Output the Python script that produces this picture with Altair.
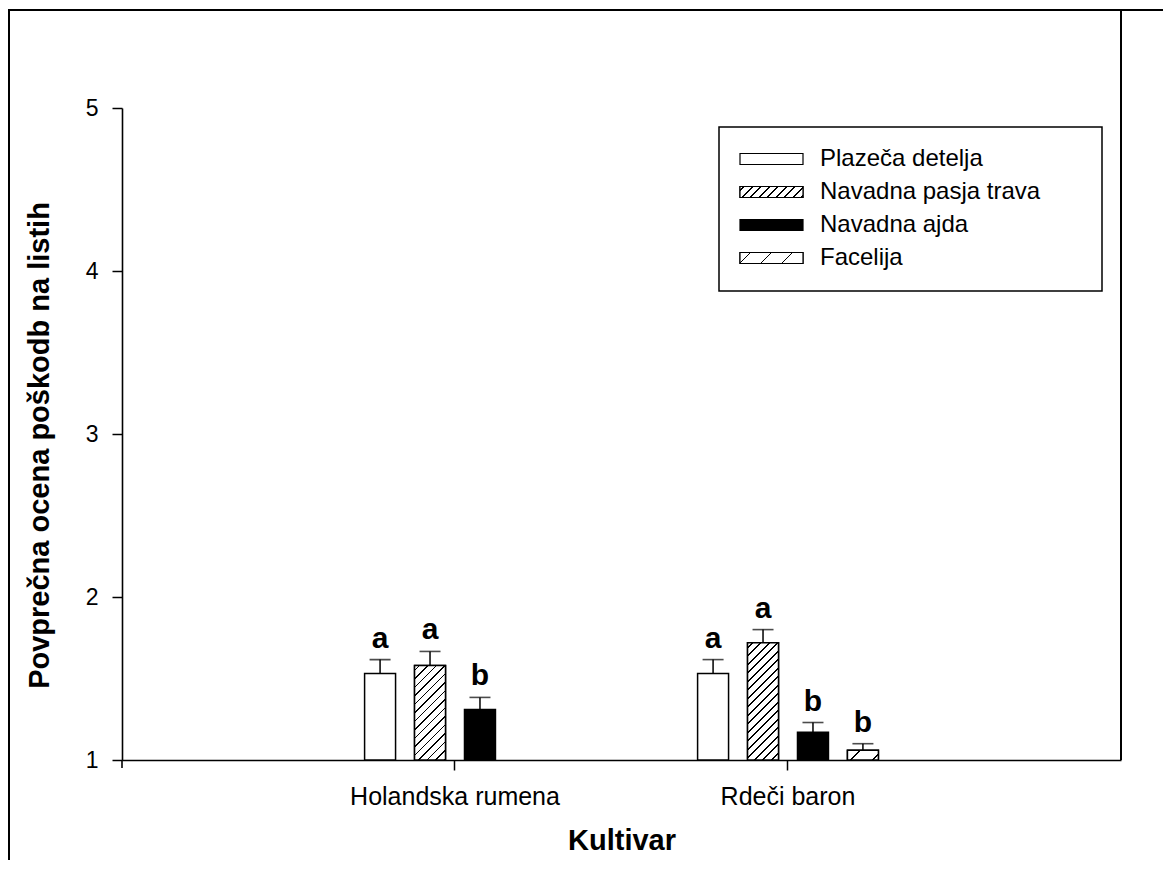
import altair as alt
import pandas as pd

# ---------------- data ----------------
cultivar_order = ["Holandska rumena", "Rdeči baron"]
series_order = ["Plazeča detelja", "Navadna pasja trava", "Navadna ajda", "Facelija"]

cultivars = ["Holandska rumena", "Holandska rumena", "Holandska rumena",
             "Rdeči baron", "Rdeči baron", "Rdeči baron", "Rdeči baron"]
series = ["Plazeča detelja", "Navadna pasja trava", "Navadna ajda",
          "Plazeča detelja", "Navadna pasja trava", "Navadna ajda", "Facelija"]
means = [1.53, 1.58, 1.31, 1.53, 1.72, 1.17, 1.06]
errors = [0.086, 0.086, 0.074, 0.086, 0.08, 0.06, 0.04]
letters = ["a", "a", "b", "a", "a", "b", "b"]
y_ticks = [1, 2, 3, 4, 5]

base_fill = ["white", "white", "black", "white"]
hatch_spacing = {"Navadna pasja trava": 8.5, "Facelija": 22.0}

FONT = "Liberation Sans"
W, H = 999, 652
PX_PER_UNIT = H / 4.0
BAR_W = 31.0

df = pd.DataFrame({"cultivar": cultivars, "series": series, "mean": means,
                   "err": errors, "letter": letters})
df["top"] = df["mean"] + df["err"]

legend_df = pd.DataFrame({"series": series_order, "idx": list(range(len(series_order)))})


def hatch_gradient(w, h, spacing, half=0.9, phase=0.5):
    L = w + h
    k = L / (w * w + h * h)
    stops = [alt.GradientStop(color="white", offset=0)]
    s = spacing * phase
    while s < L:
        a = max(0.0, (s - half) / L)
        b = min(1.0, (s + half) / L)
        stops += [alt.GradientStop(color="white", offset=a),
                  alt.GradientStop(color="black", offset=a),
                  alt.GradientStop(color="black", offset=b),
                  alt.GradientStop(color="white", offset=b)]
        s += spacing
    stops.append(alt.GradientStop(color="white", offset=1))
    return alt.Gradient(gradient="linear", stops=stops, x1=0, y1=0, x2=w * k, y2=h * k)


x_enc = alt.X("cultivar:N",
              scale=alt.Scale(domain=cultivar_order, paddingInner=0.4, paddingOuter=0.7),
              axis=alt.Axis(title="Kultivar", labelAngle=0, bandPosition=0.5, labelLimit=0,
                            tickSize=10, labelPadding=14, labelFontSize=25,
                            titleFontSize=29, titleFontWeight="bold",
                            titleBaseline="alphabetic", titleY=89))
xo_enc = alt.XOffset("series:N",
                     scale=alt.Scale(domain=series_order, paddingInner=0.38, paddingOuter=0.19))
y_scale = alt.Scale(domain=[1, 5], zero=False, nice=False)
y_enc = alt.Y("mean:Q", scale=y_scale,
              axis=alt.Axis(values=y_ticks, format="d", title="Povprečna ocena poškodb na listih",
                            tickSize=10, labelPadding=14, labelFontSize=23,
                            titleFontSize=29, titleFontWeight="bold",
                            titleBaseline="alphabetic", titleX=-74, titleY=337))

base = alt.Chart(df)

bars = base.mark_bar(stroke="black", strokeWidth=1.5).encode(
    x=x_enc, xOffset=xo_enc, y=y_enc, y2=alt.datum(1),
    fill=alt.Fill("series:N", scale=alt.Scale(domain=series_order, range=base_fill), legend=None),
)

layers = [bars]

# hatched bars (one layer per bar, gradient sized to the bar)
for c, s, m in zip(cultivars, series, means):
    if s in hatch_spacing:
        h = (m - 1) * PX_PER_UNIT
        grad = hatch_gradient(BAR_W, h, hatch_spacing[s], phase=0.6)
        layers.append(
            base.transform_filter(
                (alt.datum.cultivar == c) & (alt.datum.series == s)
            ).mark_bar(stroke="black", strokeWidth=1.5, fill=grad).encode(
                x=alt.X("cultivar:N"), xOffset=alt.XOffset("series:N"),
                y=alt.Y("mean:Q"), y2=alt.datum(1))
        )

err_rule = base.mark_rule(color="black", strokeWidth=1.5).encode(
    x=alt.X("cultivar:N"), xOffset=alt.XOffset("series:N"),
    y=alt.Y("top:Q"), y2="mean:Q")
err_cap = base.mark_tick(color="black", thickness=1.6, size=21, orient="horizontal").encode(
    x=alt.X("cultivar:N"), xOffset=alt.XOffset("series:N"), y=alt.Y("top:Q"))
letter_txt = base.mark_text(font=FONT, fontSize=30, fontWeight="bold", baseline="alphabetic",
                            dy=-12, color="black").encode(
    x=alt.X("cultivar:N"), xOffset=alt.XOffset("series:N"), y=alt.Y("top:Q"), text="letter:N")
layers += [err_rule, err_cap, letter_txt]

# ---------------- legend ----------------
one = pd.DataFrame({"k": [0]})
LEG_X0, LEG_X1, LEG_Y0, LEG_Y1 = 597, 980, 19, 183
SYM_X0, SYM_X1, SYM_H = 618, 681, 11
ROW0, ROW_STEP = 51, 33
TXT_X = 698

legend_box = alt.Chart(one).mark_rect(fill="white", stroke="black", strokeWidth=1.5).encode(
    x=alt.value(LEG_X0), x2=alt.value(LEG_X1), y=alt.value(LEG_Y0), y2=alt.value(LEG_Y1))

leg = alt.Chart(legend_df).transform_calculate(
    py=f"{ROW0} + {ROW_STEP} * datum.idx",
    y0=f"{ROW0} + {ROW_STEP} * datum.idx - {SYM_H / 2}",
    y1=f"{ROW0} + {ROW_STEP} * datum.idx + {SYM_H / 2}",
)
leg_sym = leg.mark_rect(stroke="black", strokeWidth=1.2).encode(
    x=alt.value(SYM_X0), x2=alt.value(SYM_X1),
    y=alt.Y("y0:Q", scale=None, axis=None), y2="y1:Q",
    fill=alt.Fill("series:N", scale=alt.Scale(domain=series_order, range=base_fill), legend=None))
layers += [legend_box, leg_sym]
for s in series_order:
    if s in hatch_spacing:
        grad = hatch_gradient(SYM_X1 - SYM_X0, SYM_H, hatch_spacing[s] if s != "Facelija" else 21.0,
                              phase=0.5)
        layers.append(
            leg.transform_filter(alt.datum.series == s).mark_rect(
                stroke="black", strokeWidth=1.2, fill=grad).encode(
                x=alt.value(SYM_X0), x2=alt.value(SYM_X1),
                y=alt.Y("y0:Q", scale=None, axis=None), y2="y1:Q"))
leg_txt = leg.mark_text(font=FONT, fontSize=24, align="left", baseline="middle",
                        color="black").encode(
    x=alt.value(TXT_X), y=alt.Y("py:Q", scale=None, axis=None), text="series:N")
layers.append(leg_txt)

# ---------------- frame ----------------
frame_top = alt.Chart(one).mark_rule(color="black", strokeWidth=2).encode(
    x=alt.value(-114), x2=alt.value(W + 42), y=alt.value(-98))
frame_left = alt.Chart(one).mark_rule(color="black", strokeWidth=2).encode(
    x=alt.value(-113), y=alt.value(-98), y2=alt.value(H + 100))
frame_right = alt.Chart(one).mark_rule(color="black", strokeWidth=2).encode(
    x=alt.value(W), y=alt.value(-98), y2=alt.value(H))
y_axis_ext = alt.Chart(one).mark_rule(color="black", strokeWidth=1.6).encode(
    x=alt.value(0), y=alt.value(H), y2=alt.value(H + 8))
layers += [frame_top, frame_left, frame_right, y_axis_ext]

chart = alt.layer(*layers).properties(
    width=W, height=H,
    autosize=alt.AutoSizeParams(type="none"),
    padding={"left": 114, "top": 100, "right": 42, "bottom": 100},
    background="white",
).configure_view(stroke=None).configure_axis(
    grid=False, domainColor="black", domainWidth=1.6, tickColor="black", tickWidth=1.5,
    labelColor="black", titleColor="black", labelFont=FONT, titleFont=FONT,
)

chart.save("out.html", embed_options={"renderer": "svg", "actions": False})
